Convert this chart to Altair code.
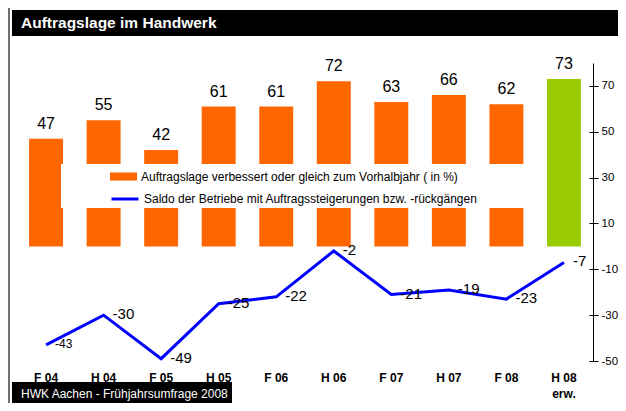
import altair as alt
import pandas as pd

# ---- data ----
categories = ["F 04", "H 04", "F 05", "H 05", "F 06", "H 06", "F 07", "H 07", "F 08", "H 08"]
auftragslage = [47, 55, 42, 61, 61, 72, 63, 66, 62, 73]
saldo = [-43, -30, -49, -25, -22, -2, -21, -19, -23, -7]
bar_group = ["Ist", "Ist", "Ist", "Ist", "Ist", "Ist", "Ist", "Ist", "Ist", "erw."]
y_ticks = [-50, -30, -10, 10, 30, 50, 70]

LEG_BAR = "Auftragslage verbessert oder gleich zum Vorhalbjahr ( in %)"
LEG_LINE = "Saldo der Betriebe mit Auftragssteigerungen bzw. -rückgängen"
TITLE = "Auftragslage im Handwerk"
FOOTER = "HWK Aachen - Frühjahrsumfrage 2008"
FONT = "Liberation Sans"

df = pd.DataFrame({
    "cat": categories,
    "wert": auftragslage,
    "saldo": saldo,
    "gruppe": [LEG_BAR if g == "Ist" else "erw." for g in bar_group],
    "linie": [LEG_LINE] * len(categories),
})

base = alt.Chart(df).transform_calculate(
    wert_txt="'' + datum.wert", saldo_txt="'' + datum.saldo")
y_scale = alt.Scale(domain=[-50, 80], nice=False, zero=False)

x_enc = alt.X(
    "cat:N", sort=categories, title=None,
    scale=alt.Scale(paddingInner=0.41, paddingOuter=0.21),
    axis=alt.Axis(domain=False, ticks=False, tickSize=0, labelAngle=0, labelFont=FONT,
                  labelFontWeight="bold", labelFontSize=12, labelColor="black",
                  labelPadding=20, labelBaseline="alphabetic", labelLineHeight=16,
                  labelExpr="datum.value == 'H 08' ? ['H 08', 'erw.'] : datum.value"),
)

bars = base.mark_bar().encode(
    x=x_enc,
    y=alt.Y("wert:Q", scale=y_scale, title=None,
            axis=alt.Axis(orient="right", values=y_ticks, grid=False, domainColor="black",
                          tickColor="black", tickSize=5, labelPadding=3, labelFont=FONT,
                          labelFontSize=11.5, labelColor="black",
                          labelExpr="'' + datum.value")),
    y2=alt.datum(0),
    fill=alt.Fill("gruppe:N",
                  scale=alt.Scale(domain=[LEG_BAR, "erw."], range=["#FF6600", "#99CC00"]),
                  legend=alt.Legend(values=[LEG_BAR], title=None, orient="none",
                                    legendX=93, legendY=100, padding=0,
                                    symbolType="M-1,-0.3H1V0.3H-1Z", symbolSize=729,
                                    symbolStrokeWidth=0, labelFont=FONT, labelFontSize=12,
                                    labelColor="black", labelOffset=4, labelLimit=0)),
)

dec = alt.Chart(pd.DataFrame({"d": [0]}))

legend_box = dec.mark_rect(color="white").encode(
    x=alt.value(44), x2=alt.value(518), y=alt.value(101), y2=alt.value(145))

bar_labels = base.mark_text(dy=-10, baseline="alphabetic", font=FONT, fontSize=16,
                            color="black").encode(
    x=x_enc, y=alt.Y("wert:Q", scale=y_scale, axis=None), text="wert_txt:N")

line = base.mark_line(strokeWidth=3).encode(
    x=x_enc,
    y=alt.Y("saldo:Q", scale=y_scale, title=None,
            axis=alt.Axis(orient="left", offset=-576, values=y_ticks, labels=False,
                          domain=False, grid=False, tickSize=4, tickColor="black")),
    stroke=alt.Stroke("linie:N", scale=alt.Scale(domain=[LEG_LINE], range=["#0000FF"]),
                      legend=alt.Legend(title=None, orient="none", legendX=93, legendY=121,
                                        padding=0, symbolType="stroke", symbolSize=729,
                                        symbolStrokeWidth=3, labelFont=FONT,
                                        labelFontSize=12, labelColor="black", labelOffset=4,
                                        labelLimit=0)),
)

line_labels = base.mark_text(align="left", baseline="middle", dx=9, dy=-1, font=FONT,
                             color="black").encode(
    x=x_enc, y=alt.Y("saldo:Q", scale=y_scale, axis=None), text="saldo_txt:N",
    size=alt.condition(alt.datum.cat == "F 04", alt.value(12), alt.value(15)))

title_bar = dec.mark_rect(color="black").encode(
    x=alt.value(-5), x2=alt.value(601), y=alt.value(-53), y2=alt.value(-27))
title_text = dec.mark_text(text=TITLE, align="left", baseline="alphabetic", font=FONT,
                           fontSize=15.5, fontWeight="bold", color="white").encode(
    x=alt.value(4), y=alt.value(-35))
footer_bar = dec.mark_rect(color="black").encode(
    x=alt.value(-5), x2=alt.value(215), y=alt.value(319), y2=alt.value(340))
footer_text = dec.mark_text(text=FOOTER, align="left", baseline="alphabetic", font=FONT,
                            fontSize=12, color="white").encode(
    x=alt.value(4), y=alt.value(335))
left_border = dec.mark_rule(color="#404040", strokeWidth=1.5).encode(
    x=alt.value(-8), y=alt.value(-55), y2=alt.value(340))

chart = alt.layer(
    bars, legend_box, bar_labels, line, line_labels,
    title_bar, title_text, footer_bar, footer_text, left_border,
).resolve_axis(y="independent").properties(
    width=576, height=298,
    autosize=alt.AutoSizeParams(type="none"),
    padding={"left": 9, "top": 55, "right": 25, "bottom": 42},
    background="white",
).configure_view(stroke=None)

chart.save("out.html", embed_options={"renderer": "svg", "actions": False})
